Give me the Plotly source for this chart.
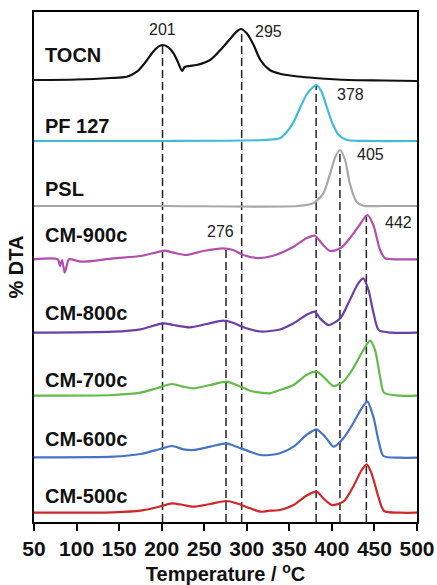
import plotly.graph_objects as go

# ---- data (stacked offsets in plot units) ----
TOCN_T = [50, 100, 140, 159, 171, 180, 190, 196, 201, 208, 214, 219, 224, 227, 233, 241, 257, 269, 280, 288, 293, 300, 308, 316, 327, 340, 360, 380, 420, 460, 500]
TOCN_Y = [442, 442.5, 444, 445.3, 450.3, 458.7, 470.3, 475.3, 477, 474.7, 468.7, 460, 451, 455, 456, 457, 462, 472, 482.7, 490.3, 493, 488.7, 477, 462, 452, 448, 445.5, 444, 442, 441.5, 441]

PF_T = [50, 200, 320, 339, 347, 355, 363, 370, 378, 382, 388, 394, 400, 408, 418, 450, 500]
PF_Y = [381, 381, 382, 383.7, 390, 400, 415, 427, 435, 437, 430, 415, 400, 387, 382, 381, 381]

PSL_T = [50, 200, 360, 378, 390, 398, 404, 409.6, 415.5, 421, 429, 437, 460, 500]
PSL_Y = [316, 316, 316, 318.7, 328.7, 348.7, 365, 372, 362, 338.7, 320.3, 316.3, 316, 316]

CM900_T = [50, 78, 80.5, 83, 86, 88.4, 91, 106, 143, 175, 194, 204, 214, 229, 249, 272, 284, 296, 312, 330, 355, 370, 380, 388, 398, 410, 421, 432.5, 441.7, 448.7, 456.6, 462.5, 480, 500]
CM900_Y = [262.7, 262.7, 256, 262, 249.3, 256, 262.7, 260.3, 263.7, 266, 269.7, 271.3, 269.3, 267, 271, 273.7, 272, 267, 264, 266, 275.3, 283.7, 286.3, 278.7, 271, 273.7, 283.7, 297, 307, 297, 272, 263.7, 262.7, 262.7]

CM800_T = [50, 143, 175, 202, 214, 233, 253, 272.5, 284, 296, 316, 339, 355, 370, 380, 386, 396, 410, 421, 431, 437, 443, 449, 455, 470, 500]
CM800_Y = [189.3, 190.3, 192.7, 198.7, 197, 194.7, 198, 201.3, 199.3, 194.7, 190.5, 192.5, 198.7, 207, 210.3, 203.7, 197, 203.7, 222, 238.7, 243.7, 232, 208.7, 192, 189.3, 189.3]

CM700_T = [50, 143, 175, 194, 212, 225.5, 237, 257, 276.4, 288, 304, 316, 327, 339, 355, 370, 382, 392, 401.7, 413.5, 425, 437, 444.8, 450.7, 456.6, 461.3, 480, 500]
CM700_Y = [126.3, 127, 129.3, 133.7, 138, 135.3, 133.7, 137, 140.3, 137, 131.3, 129.3, 128.7, 132, 137, 147, 150.3, 143.7, 136, 140.3, 153.7, 172, 181.3, 172, 145.3, 129.3, 126.3, 126.3]

CM600_T = [50, 143, 175, 197, 212, 225.5, 237, 257, 276.4, 288, 304, 316, 327, 339, 355, 370, 382, 392, 402, 413.5, 425, 435, 441.7, 448.7, 454.6, 460.5, 480, 500]
CM600_Y = [64.7, 65.3, 68, 72.7, 76, 72.7, 72, 75.3, 78.7, 75.3, 70.3, 67, 67, 68.7, 75.3, 87, 92.7, 85.3, 75.3, 83.7, 98.7, 113.7, 120.3, 105.3, 82, 66, 64.3, 64.3]

CM500_T = [50, 143, 175, 197, 212, 225.5, 237, 257, 276.4, 288, 304, 316, 327, 339, 355, 370, 382, 390, 400, 413.5, 425, 435, 441, 446.6, 454.6, 461.3, 480, 500]
CM500_Y = [9.3, 9.7, 11.3, 15.3, 18.7, 17, 15.3, 18, 21, 18.7, 13.7, 10.3, 11.3, 12, 17, 26.3, 30.3, 23.7, 17, 20.3, 35.3, 52, 57.7, 48.7, 25.3, 11, 9.3, 9.3]

SERIES = ["TOCN", "PF 127", "PSL", "CM-900c", "CM-800c", "CM-700c", "CM-600c", "CM-500c"]
SERIES_T = [TOCN_T, PF_T, PSL_T, CM900_T, CM800_T, CM700_T, CM600_T, CM500_T]
SERIES_Y = [TOCN_Y, PF_Y, PSL_Y, CM900_Y, CM800_Y, CM700_Y, CM600_Y, CM500_Y]
COLORS = ["#111111", "#40bcd8", "#a8a8a8", "#b24fae", "#6b3fa6", "#62bb48", "#4673c6", "#d02828"]
LABEL_Y = [467, 396, 333, 287, 209.3, 142.3, 83, 26]
LABEL_T = 60

# dashed marker lines: position (as drawn), top end
VLINE_T = [201, 294, 381.5, 409.5, 440.5, 275.6]
VLINE_TOP = [477, 493, 437, 372, 307, 274]

# peak numbers
PEAK_TEXT = ["201", "295", "378", "405", "442", "276"]
PEAK_T = [201, 326, 421.3, 444.8, 477.7, 269.2]
PEAK_Y = [492.5, 491, 428, 368, 299.5, 291]

XTICKS = [50, 100, 150, 200, 250, 300, 350, 400, 450, 500]

fig = go.Figure()

for t, top in zip(VLINE_T, VLINE_TOP):
    fig.add_trace(go.Scatter(x=[t, t], y=[0, top], mode="lines",
                             line=dict(color="#222222", width=1.5, dash="8px,4px"),
                             showlegend=False, hoverinfo="skip"))

for name, xs, ys, c in zip(SERIES, SERIES_T, SERIES_Y, COLORS):
    fig.add_trace(go.Scatter(x=xs, y=ys, mode="lines", name=name,
                             line=dict(color=c, width=2.2, shape="spline", smoothing=0.7),
                             showlegend=False))

FONT = "Liberation Sans, Arial, sans-serif"
for name, y in zip(SERIES, LABEL_Y):
    fig.add_annotation(x=LABEL_T, y=y, text="<b>%s</b>" % name, showarrow=False,
                       xanchor="left", yanchor="middle",
                       font=dict(family=FONT, size=20, color="#111111"))

for txt, x, y in zip(PEAK_TEXT, PEAK_T, PEAK_Y):
    fig.add_annotation(x=x, y=y, text=txt, showarrow=False,
                       xanchor="center", yanchor="middle",
                       font=dict(family=FONT, size=16, color="#222222"))

fig.update_layout(
    width=437, height=585,
    margin=dict(l=34, r=20, t=12, b=63, autoexpand=False),
    paper_bgcolor="white", plot_bgcolor="white",
    font=dict(family=FONT, color="#111111"),
    xaxis=dict(range=[50, 500], tickvals=XTICKS, ticktext=["<b>%d</b>" % v for v in XTICKS],
               ticks="outside", ticklen=7, tickwidth=2, tickcolor="black",
               ticklabelstandoff=0, ticklabeloverflow="allow", automargin=False,
               showline=True, linewidth=2, linecolor="black", mirror=True,
               showgrid=False, zeroline=False,
               tickfont=dict(family=FONT, size=21, color="#111111"),
               title=dict(text="<b>Temperature / <sup>o</sup>C</b>", standoff=11,
                          font=dict(family=FONT, size=20, color="#111111"))),
    yaxis=dict(range=[0, 510], showticklabels=False, ticks="", automargin=False,
               showline=True, linewidth=2, linecolor="black", mirror=True,
               showgrid=False, zeroline=False,
               title=dict(text="<b>% DTA</b>", standoff=3,
                          font=dict(family=FONT, size=20, color="#111111"))),
)

fig.write_html("out.html", config={"displayModeBar": False},
               post_script="document.body.style.margin='0';")
